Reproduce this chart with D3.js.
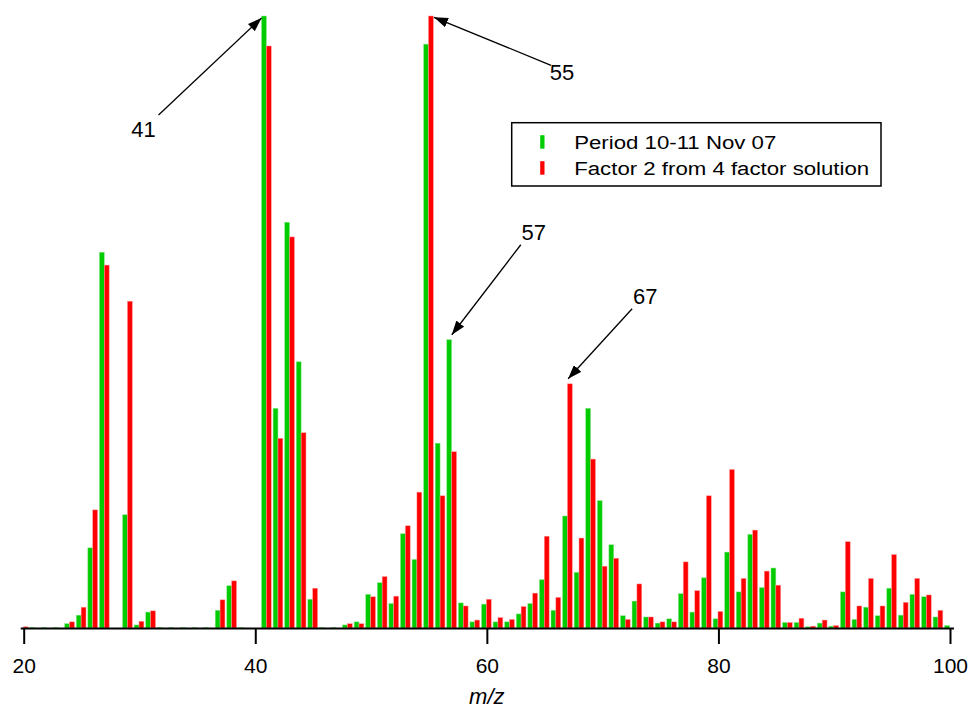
<!DOCTYPE html>
<html>
<head>
<meta charset="utf-8">
<script src="https://cdn.jsdelivr.net/npm/d3@7"></script>
<style>
  body { margin: 0; background: #fff; }
  svg { display: block; font-family: "Liberation Sans", Arial, Helvetica, sans-serif; }
</style>
</head>
<body>
<script>
// mass spectrum comparison, m/z 20 - 100

const mz = d3.range(20, 101);

// Period 10-11 Nov 07 (normalised, % of m/z 41)
const periodValues = [
  0, 0.1, 0.1, 0.1, 0.7, 2.1, 13.1, 61.4, 0, 18.5,      // 20-29
  0.5, 2.6, 0.1, 0.1, 0.1, 0.1, 0.1, 2.9, 6.9, 0.1,     // 30-39
  0, 100, 35.9, 66.3, 43.5, 4.7, 0.1, 0.1, 0.5, 1.0,    // 40-49
  5.5, 7.4, 4.0, 15.4, 11.2, 95.4, 30.2, 47.1, 4.1, 1.0, // 50-59
  3.9, 1.0, 1.0, 2.3, 4.0, 7.9, 2.9, 18.3, 9.1, 35.9,   // 60-69
  20.8, 13.6, 2.0, 4.4, 1.8, 0.8, 1.5, 5.6, 2.6, 8.2,   // 70-79
  1.5, 12.4, 5.9, 15.3, 6.6, 9.8, 0.9, 0.9, 0.2, 0.8,   // 80-89
  0.3, 5.9, 1.4, 3.4, 2.0, 6.5, 2.1, 5.5, 5.1, 1.8,     // 90-99
  0.4                                                    // 100
];

// Factor 2 from 4 factor solution (normalised, % of m/z 55)
const factorValues = [
  0.2, 0, 0, 0, 1.0, 3.4, 19.3, 59.3, 0, 53.4,          // 20-29
  1.1, 2.8, 0, 0, 0, 0, 0, 4.6, 7.7, 0,                 // 30-39
  0, 95.1, 31.0, 63.9, 31.9, 6.5, 0, 0, 0.7, 0.7,       // 40-49
  5.1, 8.4, 5.2, 16.7, 22.2, 100, 21.6, 28.8, 3.6, 1.3, // 50-59
  4.7, 1.7, 1.4, 3.5, 5.7, 15.0, 5.0, 39.9, 14.7, 27.6, // 60-69
  10.1, 11.4, 1.4, 7.2, 1.8, 1.0, 1.0, 10.8, 6.1, 21.6, // 70-79
  2.7, 25.9, 8.1, 16.0, 9.3, 7.0, 0.9, 1.6, 0.3, 1.3,   // 80-89
  0.4, 14.1, 3.6, 8.1, 3.6, 12.0, 4.2, 8.1, 5.4, 2.9,   // 90-99
  0                                                      // 100
];

const xTicks = [20, 40, 60, 80, 100];
const seriesNames = ["Period 10-11 Nov 07", "Factor 2 from 4 factor solution"];
const seriesColors = ["#00cc00", "#ff0000"];

// labelled peaks: m/z and which series the arrow points to
const peakMz = [41, 55, 57, 67];
const peakSeries = [0, 1, 0, 1];

// arrow layout in pixels (tip offset from bar's left/top, tail and label offsets)
const arrowLayout = [
  { tip: [0, 2],    tail: [-103, 97], text: [-15, 22] },
  { tip: [5.5, 1.3], tail: [117, 48], text: [11, 15] },
  { tip: [5, -5],   tail: [69, -90],  text: [13, -5] },
  { tip: [0.7, -5], tail: [64, -70],  text: [13, -5] }
];

const width = 969, height = 713;

const svg = d3.select("body").append("svg")
  .attr("width", width)
  .attr("height", height);

const x = d3.scaleLinear().domain([20, 100]).range([23.7, 950]);
const y = d3.scaleLinear().domain([0, 100]).range([628, 16]);

const barW = 0.42;
const offsets = [-0.46, -0.04];

const data = mz.map((m, i) => ({ mz: m, values: [periodValues[i], factorValues[i]] }));

// bars
[0, 1].forEach(s => {
  svg.append("g")
    .selectAll("rect")
    .data(data.filter(d => d.values[s] > 0))
    .enter().append("rect")
    .attr("x", d => x(d.mz + offsets[s]))
    .attr("width", x(20 + barW) - x(20))
    .attr("y", d => y(d.values[s]))
    .attr("height", d => y(0) - y(d.values[s]))
    .attr("fill", seriesColors[s])
    .attr("stroke", s === 0 ? "#8ee58e" : "#ff9a9a")
    .attr("stroke-width", 0.5);
});

// x axis
const xAxisScale = x.copy().domain([19.7, 100.3]).range([x(19.7), x(100.3)]);
const xAxis = d3.axisBottom(xAxisScale)
  .tickValues(xTicks)
  .tickSize(16)
  .tickSizeOuter(0)
  .tickPadding(16)
  .tickFormat(d3.format("d"));

const gx = svg.append("g")
  .attr("transform", "translate(0," + y(0) + ")")
  .call(xAxis);

gx.select(".domain").attr("stroke", "#000").attr("stroke-width", 2.2);
gx.selectAll(".tick line").attr("stroke", "#000").attr("stroke-width", 2);
gx.selectAll(".tick text")
  .attr("fill", "#000")
  .attr("y", 30)
  .attr("dy", "0.71em")
  .style("font-size", "21px")
  .style("font-family", "Liberation Sans, Arial, sans-serif");

svg.append("text")
  .attr("x", x(60))
  .attr("y", 704)
  .attr("text-anchor", "middle")
  .style("font-size", "22px")
  .style("font-style", "italic")
  .text("m/z");

// arrow head
svg.append("defs").append("marker")
  .attr("id", "arrow")
  .attr("viewBox", "0 0 14 10")
  .attr("refX", 14)
  .attr("refY", 5)
  .attr("markerWidth", 14)
  .attr("markerHeight", 10)
  .attr("markerUnits", "userSpaceOnUse")
  .attr("orient", "auto")
  .append("path")
  .attr("d", "M0,0 L14,5 L0,10 Z")
  .attr("fill", "#000");

// annotations
peakMz.forEach((m, i) => {
  const s = peakSeries[i];
  const lay = arrowLayout[i];
  const v = data.find(d => d.mz === m).values[s];
  const tipX = x(m + offsets[s]) + lay.tip[0];
  const tipY = y(v) + lay.tip[1];
  const tailX = tipX + lay.tail[0];
  const tailY = tipY + lay.tail[1];
  svg.append("line")
    .attr("x1", tailX).attr("y1", tailY)
    .attr("x2", tipX).attr("y2", tipY)
    .attr("stroke", "#000")
    .attr("stroke-width", 1.3)
    .attr("marker-end", "url(#arrow)");
  svg.append("text")
    .attr("x", tailX + lay.text[0])
    .attr("y", tailY + lay.text[1])
    .attr("text-anchor", "middle")
    .style("font-size", "22px")
    .text(String(m));
});

// legend
const legend = svg.append("g").attr("transform", "translate(511.7,122.7)");
legend.append("rect")
  .attr("width", 369.3)
  .attr("height", 63.3)
  .attr("fill", "#fff")
  .attr("stroke", "#000")
  .attr("stroke-width", 1.5);

seriesNames.forEach((name, i) => {
  const row = legend.append("g").attr("transform", "translate(0," + (12.5 + i * 26) + ")");
  row.append("rect")
    .attr("x", 28.5)
    .attr("y", 0)
    .attr("width", 4.3)
    .attr("height", 13.5)
    .attr("fill", seriesColors[i]);
  row.append("text")
    .attr("transform", "translate(62.5,13.5) scale(1.17,1)")
    .style("font-size", "19px")
    .text(name);
});
</script>
</body>
</html>
